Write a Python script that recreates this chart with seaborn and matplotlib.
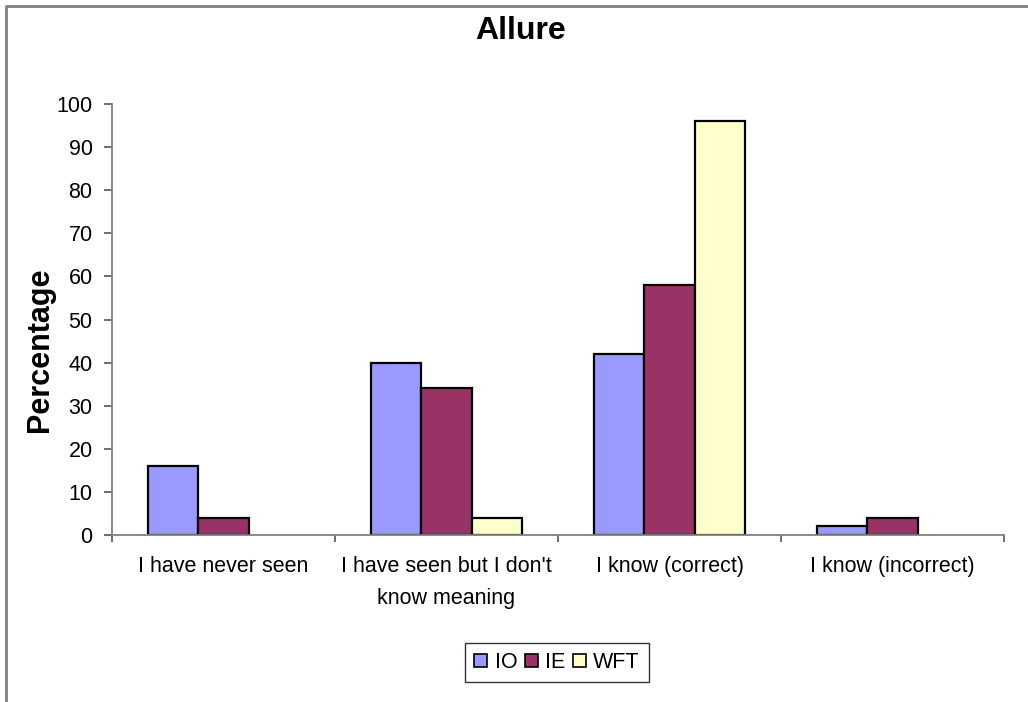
import matplotlib
matplotlib.use("Agg")
import matplotlib.pyplot as plt
from matplotlib.lines import Line2D
import seaborn as sns
import pandas as pd

# Responses to the word "Allure", percentage of each group
categories = ["I have never seen", "I have seen but I don't\nknow meaning",
              "I know (correct)", "I know (incorrect)"]
groups = ["IO", "IE", "WFT"]
io_values = [16, 40, 42, 2]
ie_values = [4, 34, 58, 4]
wft_values = [0, 4, 96, 0]
y_ticks = [0, 10, 20, 30, 40, 50, 60, 70, 80, 90, 100]
colors = ["#9999FF", "#993366", "#FFFFCC"]

rows = []
for g, vals in zip(groups, [io_values, ie_values, wft_values]):
    for c, v in zip(categories, vals):
        rows.append({"category": c, "group": g, "value": v})
df = pd.DataFrame(rows)

sns.set_style("white")
plt.rcParams["font.family"] = ["Liberation Sans", "DejaVu Sans"]
plt.rcParams["text.color"] = "black"
plt.rcParams["axes.labelcolor"] = "black"
plt.rcParams["xtick.color"] = "black"
plt.rcParams["ytick.color"] = "black"

fig = plt.figure(figsize=(10.28, 7.02), dpi=100)
W, H = 1028, 702
ax = fig.add_axes([112 / W, 1 - 535 / H, (1004 - 112) / W, (535 - 104) / H])

sns.barplot(data=df, x="category", y="value", hue="group", order=categories,
            hue_order=groups, palette=colors, width=0.68, gap=0,
            edgecolor="black", linewidth=1.6, saturation=1, ax=ax)

# zero-height bars leave no visible mark
for p in ax.patches:
    if p.get_height() == 0:
        p.set_linewidth(0)

ax.set_xlim(-0.5, 3.5)
ax.set_ylim(0, 100)
ax.set_yticks(y_ticks)
ax.set_yticklabels([str(t) for t in y_ticks])
ax.tick_params(axis="y", direction="out", length=6, width=1.2, color="#555555",
               labelsize=15.5, labelcolor="black", pad=8, left=True)
ax.set_xticks(range(len(categories)))
ax.set_xticklabels(categories, multialignment="center", linespacing=1.7)
ax.tick_params(axis="x", which="major", length=0, labelsize=15.5,
               labelcolor="black", pad=15)
ax.set_xticks([-0.5, 0.5, 1.5, 2.5, 3.5], minor=True)
ax.tick_params(axis="x", which="minor", direction="out", length=5, width=1.2,
               color="#555555", bottom=True)

for s in ["top", "right"]:
    ax.spines[s].set_visible(False)
for s in ["left", "bottom"]:
    ax.spines[s].set_color("#808080")
    ax.spines[s].set_linewidth(1.3)

ax.set_xlabel("")
ax.set_ylabel("Percentage", fontsize=22, fontweight="bold", color="black",
              va="center")
ax.yaxis.set_label_coords((40 - 112) / (1004 - 112), (535 - 350) / (535 - 104))

fig.text(521 / W, 1 - 31 / H, "Allure", fontsize=23, fontweight="bold",
         color="black", ha="center", va="center")

leg = ax.legend(loc="center", bbox_to_anchor=(557 / W, 1 - 662.5 / H),
                bbox_transform=fig.transFigure, ncol=3, fontsize=15.5,
                frameon=True, fancybox=False, handlelength=0.6,
                handleheight=0.6, handletextpad=0.35, columnspacing=0.35,
                borderpad=0.4, borderaxespad=0)
leg.get_frame().set_edgecolor("black")
leg.get_frame().set_linewidth(1.0)
for t in leg.get_texts():
    t.set_color("black")
for h in leg.legend_handles:
    h.set_edgecolor("black")
    h.set_linewidth(1.2)

# chart area border (left and top edges)
fig.add_artist(Line2D([5.5 / W, 5.5 / W, 1.0], [0, 1 - 6 / H, 1 - 6 / H],
                      transform=fig.transFigure, color="#808080", lw=2))

fig.savefig("out.png", dpi=100)
